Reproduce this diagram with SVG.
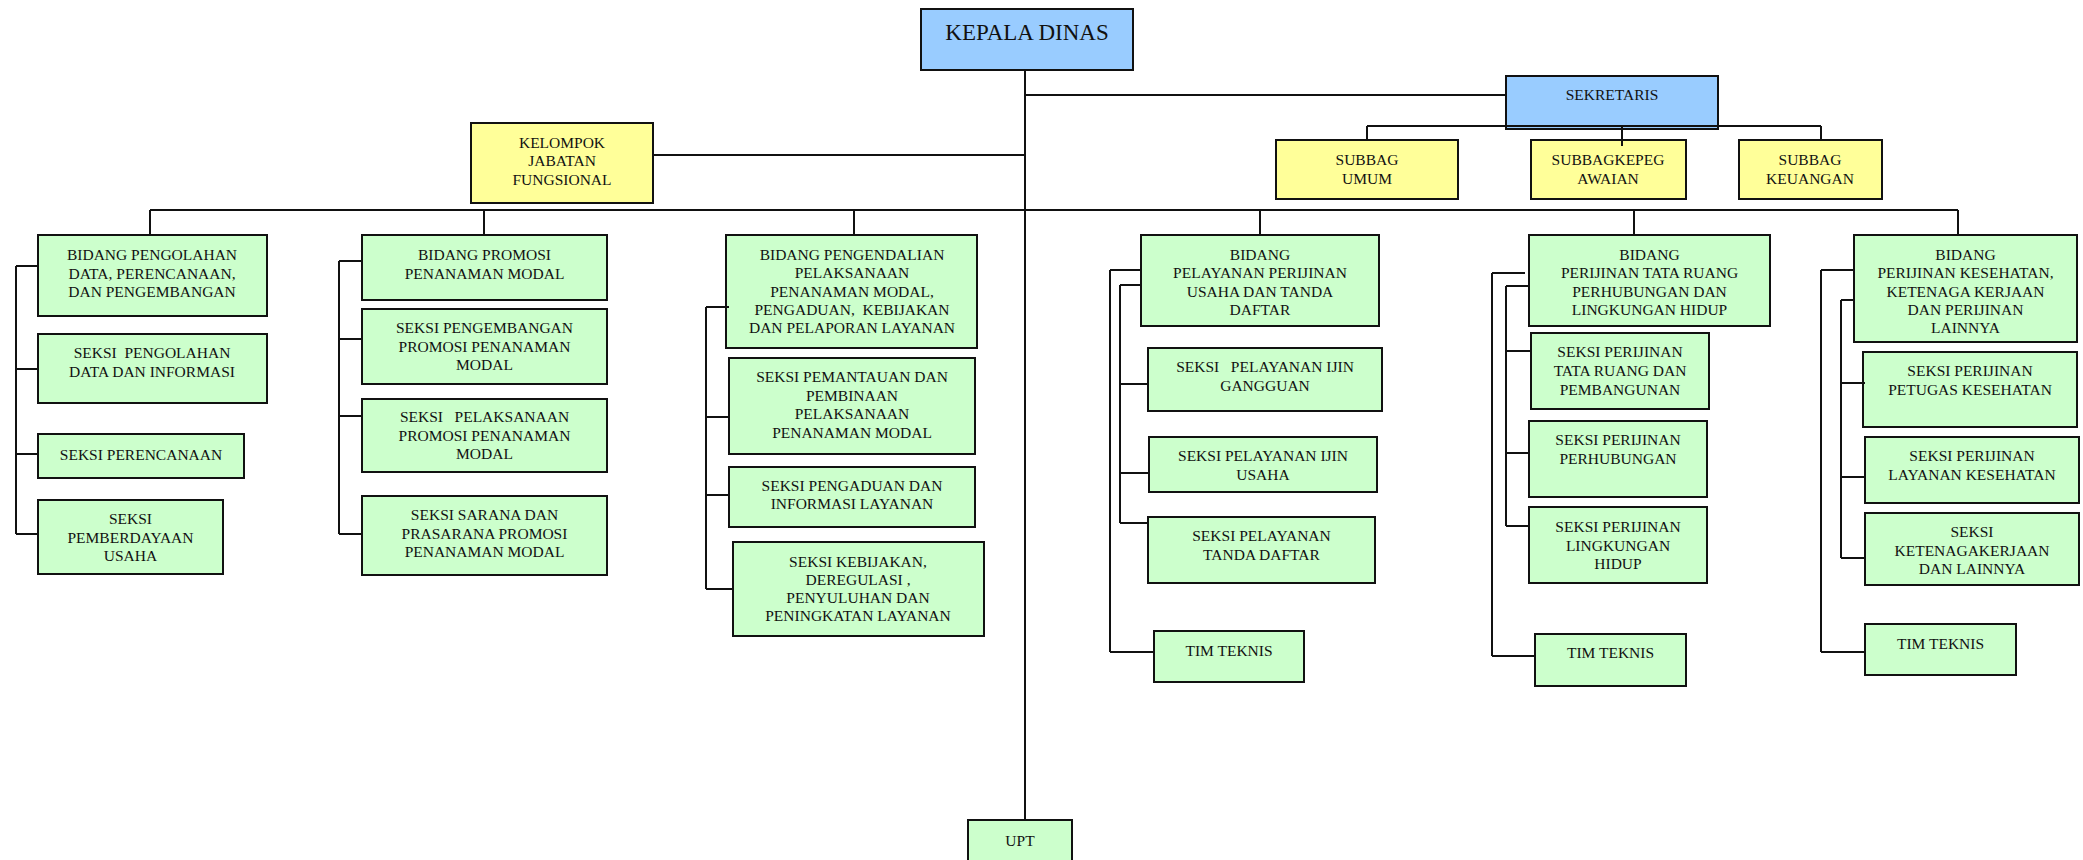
<svg xmlns="http://www.w3.org/2000/svg" width="2083" height="860" viewBox="0 0 2083 860">
<style>
rect{stroke:#111;stroke-width:2}
.b{fill:#99CCFF}.y{fill:#FFFF99}.g{fill:#CCFFCC}
text{font-family:"Liberation Serif","Times New Roman",serif;font-size:15.5px;fill:#111;text-anchor:middle}
.big{font-size:23px}
#connectors path{fill:none;stroke:#111;stroke-width:2}
</style>
<rect width="2083" height="860" fill="#fff" style="stroke:none"/>
<g id="kepala-dinas"><rect class="b" x="921" y="9" width="212" height="61"/><text class="big" x="1027" y="40">KEPALA DINAS</text></g>
<g id="sekretaris"><rect class="b" x="1506" y="76" width="212" height="53"/><text x="1612" y="100">SEKRETARIS</text></g>
<g id="kelompok"><rect class="y" x="471" y="123" width="182" height="80"/><text x="562" y="147.5">KELOMPOK</text><text x="562" y="166">JABATAN</text><text x="562" y="184.5">FUNGSIONAL</text></g>
<g id="subbag-umum"><rect class="y" x="1276" y="140" width="182" height="59"/><text x="1367" y="164.5">SUBBAG</text><text x="1367" y="183.5">UMUM</text></g>
<g id="subbag-kepeg"><rect class="y" x="1531" y="140" width="155" height="59"/><text x="1608" y="164.5">SUBBAGKEPEG</text><text x="1608" y="183.5">AWAIAN</text></g>
<g id="subbag-keuangan"><rect class="y" x="1739" y="140" width="143" height="59"/><text x="1810" y="164.5">SUBBAG</text><text x="1810" y="183.5">KEUANGAN</text></g>

<g id="bidang-pengolahan"><rect class="g" x="38" y="235" width="229" height="81"/><text x="152" y="260">BIDANG PENGOLAHAN</text><text x="152" y="278.5">DATA, PERENCANAAN,</text><text x="152" y="297">DAN PENGEMBANGAN</text></g>
<g id="seksi-pengolahan"><rect class="g" x="38" y="334" width="229" height="69"/><text x="152" y="358" xml:space="preserve">SEKSI  PENGOLAHAN</text><text x="152" y="377">DATA DAN INFORMASI</text></g>
<g id="seksi-perencanaan"><rect class="g" x="38" y="434" width="206" height="44"/><text x="141" y="459.5">SEKSI PERENCANAAN</text></g>
<g id="seksi-pemberdayaan"><rect class="g" x="38" y="500" width="185" height="74"/><text x="130.5" y="524">SEKSI</text><text x="130.5" y="542.5">PEMBERDAYAAN</text><text x="130.5" y="561">USAHA</text></g>

<g id="bidang-promosi"><rect class="g" x="362" y="235" width="245" height="65"/><text x="484.5" y="260">BIDANG PROMOSI</text><text x="484.5" y="278.5">PENANAMAN MODAL</text></g>
<g id="seksi-pengembangan"><rect class="g" x="362" y="309" width="245" height="75"/><text x="484.5" y="333">SEKSI PENGEMBANGAN</text><text x="484.5" y="351.5">PROMOSI PENANAMAN</text><text x="484.5" y="370">MODAL</text></g>
<g id="seksi-pelaksanaan"><rect class="g" x="362" y="399" width="245" height="73"/><text x="484.5" y="422" xml:space="preserve">SEKSI   PELAKSANAAN</text><text x="484.5" y="440.5">PROMOSI PENANAMAN</text><text x="484.5" y="459">MODAL</text></g>
<g id="seksi-sarana"><rect class="g" x="362" y="496" width="245" height="79"/><text x="484.5" y="520">SEKSI SARANA DAN</text><text x="484.5" y="538.5">PRASARANA PROMOSI</text><text x="484.5" y="557">PENANAMAN MODAL</text></g>

<g id="bidang-pengendalian"><rect class="g" x="726" y="235" width="251" height="113"/><text x="852" y="260">BIDANG PENGENDALIAN</text><text x="852" y="278">PELAKSANAAN</text><text x="852" y="296.5">PENANAMAN MODAL,</text><text x="852" y="315" xml:space="preserve">PENGADUAN,  KEBIJAKAN</text><text x="852" y="333">DAN PELAPORAN LAYANAN</text></g>
<g id="seksi-pemantauan"><rect class="g" x="729" y="358" width="246" height="96"/><text x="852" y="382">SEKSI PEMANTAUAN DAN</text><text x="852" y="400.5">PEMBINAAN</text><text x="852" y="419">PELAKSANAAN</text><text x="852" y="437.5">PENANAMAN MODAL</text></g>
<g id="seksi-pengaduan"><rect class="g" x="729" y="467" width="246" height="60"/><text x="852" y="490.5">SEKSI PENGADUAN DAN</text><text x="852" y="509">INFORMASI LAYANAN</text></g>
<g id="seksi-kebijakan"><rect class="g" x="733" y="542" width="251" height="94"/><text x="858" y="566.5">SEKSI KEBIJAKAN,</text><text x="858" y="584.5">DEREGULASI ,</text><text x="858" y="602.5">PENYULUHAN DAN</text><text x="858" y="621">PENINGKATAN LAYANAN</text></g>

<g id="bidang-pelayanan"><rect class="g" x="1141" y="235" width="238" height="91"/><text x="1260" y="260">BIDANG</text><text x="1260" y="278">PELAYANAN PERIJINAN</text><text x="1260" y="296.5">USAHA DAN TANDA</text><text x="1260" y="315">DAFTAR</text></g>
<g id="seksi-gangguan"><rect class="g" x="1148" y="348" width="234" height="63"/><text x="1265" y="372" xml:space="preserve">SEKSI   PELAYANAN IJIN</text><text x="1265" y="391">GANGGUAN</text></g>
<g id="seksi-ijin-usaha"><rect class="g" x="1149" y="437" width="228" height="55"/><text x="1263" y="461">SEKSI PELAYANAN IJIN</text><text x="1263" y="479.5">USAHA</text></g>
<g id="seksi-tanda-daftar"><rect class="g" x="1148" y="517" width="227" height="66"/><text x="1261.5" y="541">SEKSI PELAYANAN</text><text x="1261.5" y="560">TANDA DAFTAR</text></g>
<g id="tim-teknis-1"><rect class="g" x="1154" y="631" width="150" height="51"/><text x="1229" y="655.5">TIM TEKNIS</text></g>

<g id="bidang-tata-ruang"><rect class="g" x="1529" y="235" width="241" height="91"/><text x="1649.5" y="260">BIDANG</text><text x="1649.5" y="278">PERIJINAN TATA RUANG</text><text x="1649.5" y="296.5">PERHUBUNGAN DAN</text><text x="1649.5" y="315">LINGKUNGAN HIDUP</text></g>
<g id="seksi-tata-ruang"><rect class="g" x="1531" y="333" width="178" height="76"/><text x="1620" y="357">SEKSI PERIJINAN</text><text x="1620" y="376">TATA RUANG DAN</text><text x="1620" y="395">PEMBANGUNAN</text></g>
<g id="seksi-perhubungan"><rect class="g" x="1529" y="421" width="178" height="76"/><text x="1618" y="445">SEKSI PERIJINAN</text><text x="1618" y="464">PERHUBUNGAN</text></g>
<g id="seksi-lingkungan"><rect class="g" x="1529" y="507" width="178" height="76"/><text x="1618" y="532">SEKSI PERIJINAN</text><text x="1618" y="550.5">LINGKUNGAN</text><text x="1618" y="569">HIDUP</text></g>
<g id="tim-teknis-2"><rect class="g" x="1535" y="634" width="151" height="52"/><text x="1610.5" y="658">TIM TEKNIS</text></g>

<g id="bidang-kesehatan"><rect class="g" x="1854" y="235" width="223" height="107"/><text x="1965.5" y="260">BIDANG</text><text x="1965.5" y="278">PERIJINAN KESEHATAN,</text><text x="1965.5" y="296.5">KETENAGA KERJAAN</text><text x="1965.5" y="315">DAN PERIJINAN</text><text x="1965.5" y="333">LAINNYA</text></g>
<g id="seksi-petugas"><rect class="g" x="1863" y="352" width="214" height="75"/><text x="1970" y="376">SEKSI PERIJINAN</text><text x="1970" y="395">PETUGAS KESEHATAN</text></g>
<g id="seksi-layanan-kesehatan"><rect class="g" x="1865" y="437" width="214" height="66"/><text x="1972" y="461">SEKSI PERIJINAN</text><text x="1972" y="479.5">LAYANAN KESEHATAN</text></g>
<g id="seksi-ketenagakerjaan"><rect class="g" x="1865" y="513" width="214" height="72"/><text x="1972" y="537">SEKSI</text><text x="1972" y="555.5">KETENAGAKERJAAN</text><text x="1972" y="574">DAN LAINNYA</text></g>
<g id="tim-teknis-3"><rect class="g" x="1865" y="624" width="151" height="51"/><text x="1940.5" y="649">TIM TEKNIS</text></g>

<g id="upt"><rect class="g" x="968" y="820" width="104" height="50"/><text x="1020" y="845.5">UPT</text></g>

<g id="connectors">
<path d="M1025 70V820M1025 95H1506M653 155H1025"/>
<path d="M1367 126H1821M1367 126V140M1622 126V146M1821 126V140"/>
<path d="M150 210H1958M150 210V235M484 210V235M854 210V235M1260 210V235M1634 210V235M1958 210V235"/>
<path d="M16 266V534M16 266H38M16 369H38M16 454H38M16 534H38"/>
<path d="M339 261V534M339 261H362M339 339H362M339 416H362M339 534H362"/>
<path d="M706 307V589M706 307H729M706 417H729M706 495H729M706 589H733"/>
<path d="M1110 270V652M1110 270H1142M1110 652H1154M1120 285V523M1120 285H1141M1120 384H1148M1120 473H1149M1120 523H1148"/>
<path d="M1492 273V656M1492 273H1525M1492 656H1535M1506 286V526M1506 286H1529M1506 351H1531M1506 453H1529M1506 526H1529"/>
<path d="M1821 270V652M1821 270H1854M1821 652H1865M1841 300V558M1841 300H1854M1841 383H1865M1841 477H1865M1841 558H1865"/>
</g>
</svg>
